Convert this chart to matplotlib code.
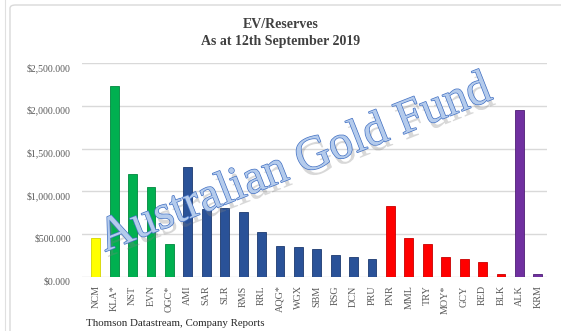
import matplotlib
matplotlib.use("Agg")
import matplotlib.pyplot as plt
import matplotlib.patheffects as pe
from matplotlib.patches import FancyBboxPatch
from matplotlib.transforms import ScaledTranslation
from matplotlib.ticker import FuncFormatter

plt.rcParams["font.family"] = ["Liberation Serif", "DejaVu Serif"]

tickers = ["NCM", "KLA*", "NST", "EVN", "OGC*", "AMI", "SAR", "SLR", "RMS", "RRL",
           "AQG*", "WGX", "SBM", "RSG", "DCN", "PRU", "PNR", "MML", "TRY", "MOY*",
           "GCY", "RED", "BLK", "ALK", "KRM"]
values = [450, 2235, 1205, 1055, 390, 1290, 795, 805, 755, 525,
          360, 355, 330, 255, 235, 210, 835, 455, 380, 235,
          205, 175, 35, 1955, 40]
groups = ["yellow"] + ["green"] * 4 + ["blue"] * 11 + ["red"] * 7 + ["purple"] * 2
group_colors = {"yellow": "#FFFF00", "green": "#00B050", "blue": "#2A5298",
                "red": "#FF0000", "purple": "#7030A0"}
group_edges = {"yellow": "#D4D400", "green": "#00883E", "blue": "#1C3A70",
               "red": "#C80000", "purple": "#4E1F75"}

yticks = [0, 500, 1000, 1500, 2000, 2500]

fig = plt.figure(figsize=(5.61, 3.31), dpi=100)
fig.patch.set_facecolor("white")

# chart frame
frame = FancyBboxPatch((10 / 561, -0.05), 1.2, 1.0 - 5 / 331 + 0.05,
                       boxstyle="round,pad=0,rounding_size=0.01",
                       transform=fig.transFigure, facecolor="none",
                       edgecolor="#D9D9D9", linewidth=1.0)
fig.patches.append(frame)
fig.add_artist(plt.Line2D([5 / 561, 5 / 561], [0, 1], transform=fig.transFigure,
                          color="#E0E0E0", linewidth=0.8))

ax = fig.add_axes([82 / 561, 1 - 277 / 331, (547 - 82) / 561, (277 - 63) / 331])
x = list(range(len(tickers)))
ax.bar(x, values, width=0.48,
       color=[group_colors[g] for g in groups],
       edgecolor=[group_edges[g] for g in groups], linewidth=0.6, zorder=3)

ax.set_ylim(0, 2500)
ax.set_xlim(-0.75, len(tickers) - 0.5)
ax.set_yticks(yticks)
ax.yaxis.set_major_formatter(FuncFormatter(lambda v, p: "${:,.3f}".format(v)))
ax.grid(axis="y", color="#D9D9D9", linewidth=1.0, zorder=0)
for s in ax.spines.values():
    s.set_visible(False)
ax.tick_params(axis="both", length=0)
ax.tick_params(axis="y", pad=8, labelsize=7.0, labelcolor="#595959")
ax.set_xticks(x)
ax.set_xticklabels(tickers, rotation=90, fontsize=7.3, color="#595959")
ax.tick_params(axis="x", pad=6)
off = ScaledTranslation(0, -4 / 100, fig.dpi_scale_trans)
for t in ax.yaxis.get_major_ticks():
    t.label1.set_transform(t.label1.get_transform() + off)

fig.text(0.5, 1 - 25 / 331, "EV/Reserves", ha="center", va="center",
         fontsize=10, fontweight="bold", color="#404040")
fig.text(0.5, 1 - 42 / 331, "As at 12th September 2019", ha="center", va="center",
         fontsize=10, fontweight="bold", color="#404040")
fig.text(86 / 561, 1 - 323 / 331, "Thomson Datastream, Company Reports",
         ha="left", va="center", fontsize=7.8, color="#262626")

# watermark
fig.text(295 / 561, 1 - 164 / 331, "Australian Gold Fund", ha="center", va="center",
         rotation=21.5, fontsize=34.5, color="#B4CBEC", zorder=10,
         path_effects=[pe.withSimplePatchShadow(offset=(2, -4), shadow_rgbFace="#7F7F7F", alpha=0.3),
                       pe.Stroke(linewidth=1.0, foreground="#4472C4"),
                       pe.Normal()])

fig.savefig("out.png", dpi=100)
